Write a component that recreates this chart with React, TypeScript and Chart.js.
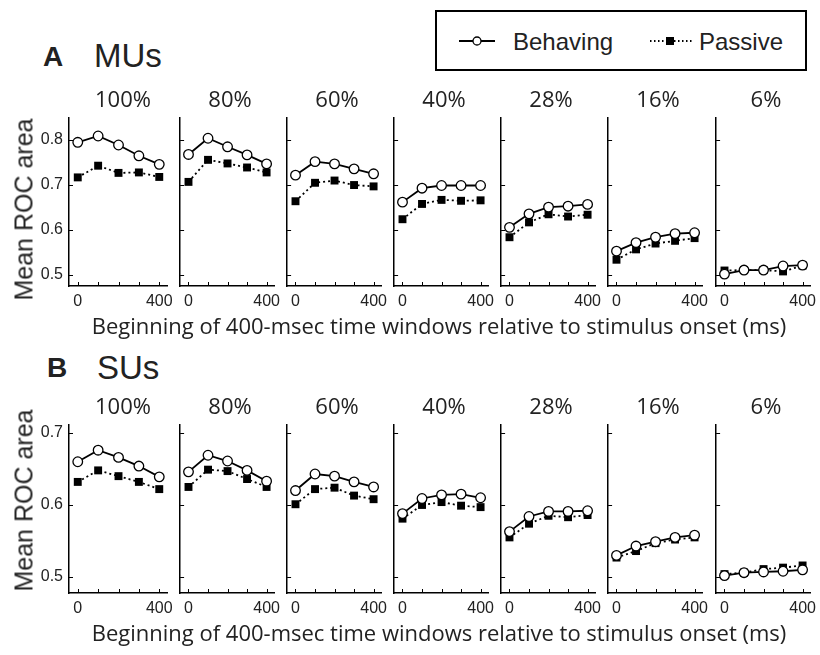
import React, { useEffect, useRef } from 'react';
import { Chart, registerables } from 'chart.js';

Chart.register(...registerables);

// ---------- data ----------
const windowStarts = [0, 100, 200, 300, 400];
const contrasts = ['100%', '80%', '60%', '40%', '28%', '16%', '6%'];
const xTickValues = [0, 100, 200, 300, 400];
const xTickLabels = ['0', '400'];
const muYTicks = [0.5, 0.6, 0.7, 0.8];
const suYTicks = [0.5, 0.6, 0.7];

// MUs, Behaving
const mu100Beh = [0.795, 0.809, 0.789, 0.765, 0.746];
const mu80Beh = [0.768, 0.804, 0.785, 0.767, 0.747];
const mu60Beh = [0.722, 0.752, 0.747, 0.736, 0.725];
const mu40Beh = [0.662, 0.693, 0.699, 0.699, 0.699];
const mu28Beh = [0.606, 0.636, 0.651, 0.653, 0.657];
const mu16Beh = [0.553, 0.572, 0.584, 0.592, 0.594];
const mu6Beh = [0.502, 0.511, 0.511, 0.52, 0.522];
// MUs, Passive
const mu100Pas = [0.717, 0.743, 0.727, 0.728, 0.718];
const mu80Pas = [0.707, 0.756, 0.748, 0.739, 0.728];
const mu60Pas = [0.664, 0.705, 0.71, 0.7, 0.697];
const mu40Pas = [0.624, 0.658, 0.667, 0.665, 0.666];
const mu28Pas = [0.584, 0.617, 0.635, 0.63, 0.634];
const mu16Pas = [0.534, 0.557, 0.57, 0.576, 0.582];
const mu6Pas = [0.51, 0.511, 0.511, 0.508, 0.521];
// SUs, Behaving
const su100Beh = [0.66, 0.676, 0.666, 0.654, 0.639];
const su80Beh = [0.646, 0.669, 0.661, 0.648, 0.633];
const su60Beh = [0.62, 0.643, 0.64, 0.632, 0.625];
const su40Beh = [0.588, 0.609, 0.614, 0.615, 0.61];
const su28Beh = [0.563, 0.584, 0.591, 0.591, 0.592];
const su16Beh = [0.53, 0.543, 0.549, 0.555, 0.558];
const su6Beh = [0.502, 0.506, 0.507, 0.508, 0.51];
// SUs, Passive
const su100Pas = [0.632, 0.648, 0.64, 0.632, 0.622];
const su80Pas = [0.625, 0.649, 0.647, 0.636, 0.625];
const su60Pas = [0.601, 0.622, 0.624, 0.613, 0.608];
const su40Pas = [0.581, 0.6, 0.604, 0.599, 0.597];
const su28Pas = [0.555, 0.574, 0.585, 0.583, 0.586];
const su16Pas = [0.527, 0.536, 0.547, 0.552, 0.555];
const su6Pas = [0.504, 0.506, 0.511, 0.513, 0.516];

const muBeh = [mu100Beh, mu80Beh, mu60Beh, mu40Beh, mu28Beh, mu16Beh, mu6Beh];
const muPas = [mu100Pas, mu80Pas, mu60Pas, mu40Pas, mu28Pas, mu16Pas, mu6Pas];
const suBeh = [su100Beh, su80Beh, su60Beh, su40Beh, su28Beh, su16Beh, su6Beh];
const suPas = [su100Pas, su80Pas, su60Pas, su40Pas, su28Pas, su16Pas, su6Pas];

// ---------- layout ----------
const PANEL_LEFTS = [69, 176, 283, 390, 497, 604, 712];
const PLOT_W = 98;
const X_MIN = -43;
const X_MAX = 438;
const ROW_A = { top: 118, bottom: 286, yMin: 0.4756, yMax: 0.849, labelY: 209 };
const ROW_B = { top: 425, bottom: 593, yMin: 0.4778, yMax: 0.711, labelY: 500 };
const PAD_T = 8;
const PAD_R = 10;
const X_H = 34;
const TICK_FONT = "'Liberation Sans Narrow', 'Liberation Sans', Arial, sans-serif";
const TEXT_FONT = "'Open Sans', 'Noto Sans', sans-serif";
const ARIAL = "'Liberation Sans', Arial, sans-serif";

const inwardTicks = {
  id: 'inwardTicks',
  afterDraw(chart: any) {
    const { ctx, chartArea, scales } = chart;
    ctx.save();
    ctx.strokeStyle = '#000';
    ctx.lineWidth = 1;
    const len = 4;
    scales.x.ticks.forEach((t: any) => {
      const px = Math.round(scales.x.getPixelForValue(t.value)) + 0.5;
      ctx.beginPath();
      ctx.moveTo(px, chartArea.bottom);
      ctx.lineTo(px, chartArea.bottom - len);
      ctx.stroke();
    });
    scales.y.ticks.forEach((t: any) => {
      const py = Math.round(scales.y.getPixelForValue(t.value)) + 0.5;
      ctx.beginPath();
      ctx.moveTo(chartArea.left, py);
      ctx.lineTo(chartArea.left + len, py);
      ctx.stroke();
    });
    ctx.restore();
  },
};

type RowSpec = { top: number; bottom: number; yMin: number; yMax: number; labelY: number };
type PanelProps = {
  left: number;
  row: RowSpec;
  yTicks: number[];
  showY: boolean;
  beh: number[];
  pas: number[];
};

function Panel({ left, row, yTicks, showY, beh, pas }: PanelProps) {
  const ref = useRef<HTMLCanvasElement | null>(null);
  const yW = showY ? 50 : 2;
  const plotH = row.bottom - row.top;
  const width = yW + PLOT_W + PAD_R;
  const height = PAD_T + plotH + X_H;

  useEffect(() => {
    if (!ref.current) return;
    const chart = new Chart(ref.current, {
      type: 'line',
      data: {
        datasets: [
          {
            label: 'Behaving',
            data: windowStarts.map((x, i) => ({ x, y: beh[i] })),
            borderColor: '#000',
            borderWidth: 1.8,
            pointStyle: 'circle',
            pointRadius: 4.8,
            pointBackgroundColor: '#fff',
            pointBorderColor: '#000',
            pointBorderWidth: 1.3,
            tension: 0,
            fill: false,
          },
          {
            label: 'Passive',
            data: windowStarts.map((x, i) => ({ x, y: pas[i] })),
            borderColor: '#000',
            borderWidth: 1.8,
            borderDash: [2, 3],
            pointStyle: 'rect',
            pointRadius: 5.6,
            pointBackgroundColor: '#000',
            pointBorderColor: '#000',
            pointBorderWidth: 0,
            tension: 0,
            fill: false,
          },
        ],
      },
      options: {
        responsive: false,
        animation: false,
        events: [],
        layout: { padding: { top: PAD_T, right: PAD_R, left: 0, bottom: 0 } },
        plugins: { legend: { display: false }, tooltip: { enabled: false }, title: { display: false } },
        scales: {
          x: {
            type: 'linear',
            min: X_MIN,
            max: X_MAX,
            grid: { display: false, drawTicks: false },
            border: { display: true, color: '#000', width: 1.5 },
            afterBuildTicks: (s: any) => {
              s.ticks = xTickValues.map((v) => ({ value: v }));
            },
            afterFit: (s: any) => {
              s.height = X_H;
              s.paddingLeft = 0;
              s.paddingRight = 0;
            },
            ticks: {
              autoSkip: false,
              maxRotation: 0,
              padding: 6,
              color: '#222',
              font: { family: TICK_FONT, size: 16 },
              callback: (v: any) => (xTickLabels.includes(String(v)) ? String(v) : ''),
            },
          },
          y: {
            type: 'linear',
            min: row.yMin,
            max: row.yMax,
            grid: { display: false, drawTicks: false },
            border: { display: true, color: '#000', width: 1.5 },
            afterBuildTicks: (s: any) => {
              s.ticks = yTicks.map((v) => ({ value: v }));
            },
            afterFit: (s: any) => {
              s.width = yW;
              s.paddingTop = 0;
              s.paddingBottom = 0;
            },
            ticks: {
              display: showY,
              padding: 6,
              color: '#222',
              font: { family: TICK_FONT, size: 16 },
              callback: (v: any) => Number(v).toFixed(1),
            },
          },
        },
      },
      plugins: [inwardTicks],
    } as any);
    return () => chart.destroy();
  }, []);

  return (
    <canvas
      ref={ref}
      width={width}
      height={height}
      style={{ position: 'absolute', left: left - yW, top: row.top - PAD_T, width, height }}
    />
  );
}

function Row({ row, yTicks, beh, pas }: any) {
  return (
    <>
      {PANEL_LEFTS.map((l, i) => (
        <Panel key={i} left={l} row={row} yTicks={yTicks} showY={i === 0} beh={beh[i]} pas={pas[i]} />
      ))}
      {PANEL_LEFTS.map((l, i) => (
        <div
          key={'t' + i}
          style={{
            position: 'absolute',
            left: l + 5,
            width: PLOT_W,
            top: row.top - 31,
            textAlign: 'center',
            font: `22px ${TEXT_FONT}`,
            lineHeight: '22px',
            color: '#222',
          }}
        >
          {contrasts[i]}
        </div>
      ))}
      <div
        style={{
          position: 'absolute',
          left: 39,
          width: 800,
          top: row.bottom + 28,
          textAlign: 'center',
          font: `22px ${TEXT_FONT}`,
          lineHeight: '22px',
          color: '#222',
          whiteSpace: 'nowrap',
        }}
      >
        Beginning of 400-msec time windows relative to stimulus onset (ms)
      </div>
      <div
        style={{
          position: 'absolute',
          left: 24 - 110,
          width: 220,
          top: row.labelY - 12.5,
          height: 25,
          textAlign: 'center',
          font: `25px ${ARIAL}`,
          lineHeight: '25px',
          color: '#222',
          transform: 'rotate(-90deg)',
          whiteSpace: 'nowrap',
        }}
      >
        Mean ROC area
      </div>
    </>
  );
}

function Legend() {
  return (
    <div
      style={{
        position: 'absolute',
        left: 435,
        top: 10,
        width: 372,
        height: 61,
        boxSizing: 'border-box',
        border: '2px solid #000',
        background: '#fff',
      }}
    >
      <svg width={368} height={57} style={{ position: 'absolute', left: 0, top: 0 }}>
        <line x1={22} y1={29} x2={58} y2={29} stroke="#000" strokeWidth={2} />
        <circle cx={40} cy={29} r={4} fill="#fff" stroke="#000" strokeWidth={1.3} />
        <line x1={213} y1={29} x2={256} y2={29} stroke="#000" strokeWidth={2} strokeDasharray="1.5 2.5" />
        <rect x={229} y={25} width={8} height={8} fill="#000" />
      </svg>
      <div style={{ position: 'absolute', left: 76, top: 18, font: `24px ${ARIAL}`, lineHeight: '24px', color: '#222' }}>
        Behaving
      </div>
      <div style={{ position: 'absolute', left: 262, top: 18, font: `24px ${ARIAL}`, lineHeight: '24px', color: '#222' }}>
        Passive
      </div>
    </div>
  );
}

export default function App() {
  return (
    <div style={{ position: 'absolute', left: 0, top: 0, width: 820, height: 655, background: '#fff', overflow: 'hidden' }}>
      <div style={{ position: 'absolute', left: 43, top: 43, font: `bold 28px ${ARIAL}`, lineHeight: '28px', color: '#222' }}>A</div>
      <div style={{ position: 'absolute', left: 94, top: 39, font: `33px ${ARIAL}`, lineHeight: '33px', color: '#222' }}>MUs</div>
      <div style={{ position: 'absolute', left: 47, top: 354, font: `bold 28px ${ARIAL}`, lineHeight: '28px', color: '#222' }}>B</div>
      <div style={{ position: 'absolute', left: 97, top: 351, font: `33px ${ARIAL}`, lineHeight: '33px', color: '#222' }}>SUs</div>
      <Legend />
      <Row row={ROW_A} yTicks={muYTicks} beh={muBeh} pas={muPas} />
      <Row row={ROW_B} yTicks={suYTicks} beh={suBeh} pas={suPas} />
    </div>
  );
}
